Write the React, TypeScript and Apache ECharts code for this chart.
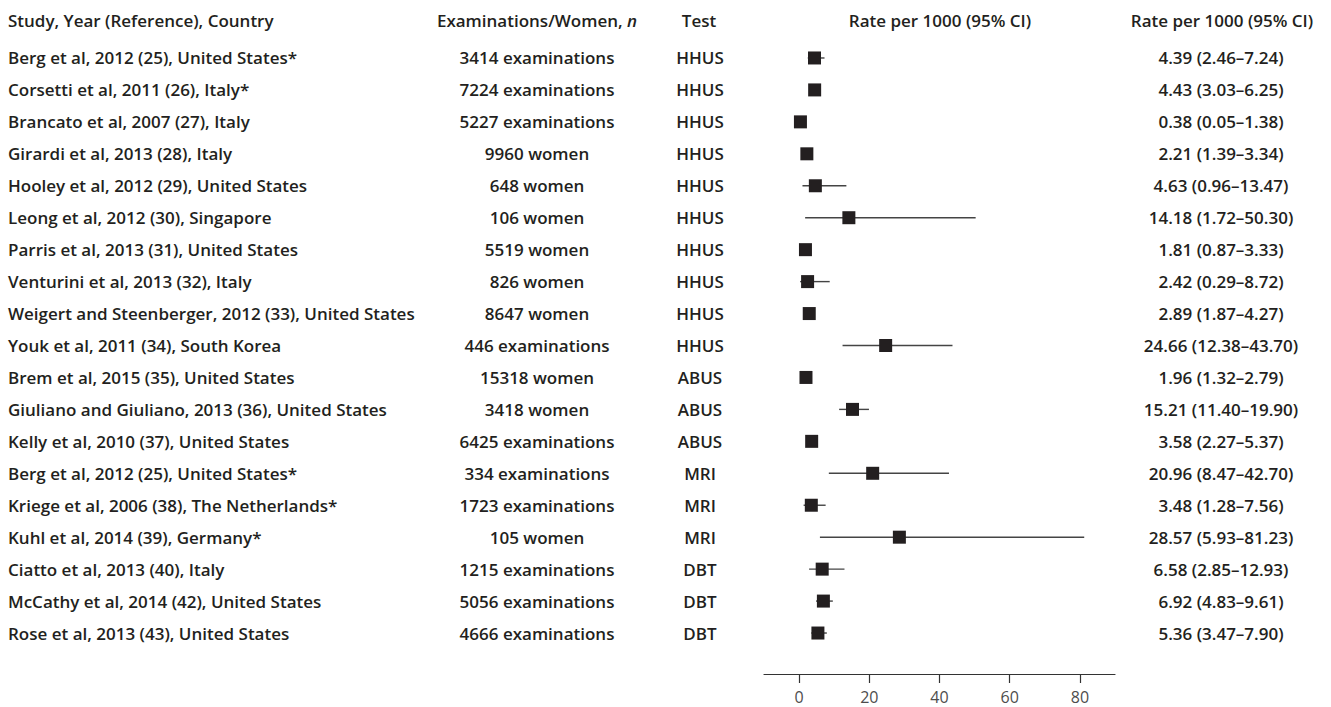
import React, { useEffect, useRef } from "react";
import * as echarts from "echarts";

const studies = [
  "Berg et al, 2012 (25), United States*",
  "Corsetti et al, 2011 (26), Italy*",
  "Brancato et al, 2007 (27), Italy",
  "Girardi et al, 2013 (28), Italy",
  "Hooley et al, 2012 (29), United States",
  "Leong et al, 2012 (30), Singapore",
  "Parris et al, 2013 (31), United States",
  "Venturini et al, 2013 (32), Italy",
  "Weigert and Steenberger, 2012 (33), United States",
  "Youk et al, 2011 (34), South Korea",
  "Brem et al, 2015 (35), United States",
  "Giuliano and Giuliano, 2013 (36), United States",
  "Kelly et al, 2010 (37), United States",
  "Berg et al, 2012 (25), United States*",
  "Kriege et al, 2006 (38), The Netherlands*",
  "Kuhl et al, 2014 (39), Germany*",
  "Ciatto et al, 2013 (40), Italy",
  "McCathy et al, 2014 (42), United States",
  "Rose et al, 2013 (43), United States",
];
const sampleSizes = [
  "3414 examinations", "7224 examinations", "5227 examinations", "9960 women",
  "648 women", "106 women", "5519 women", "826 women", "8647 women",
  "446 examinations", "15318 women", "3418 women", "6425 examinations",
  "334 examinations", "1723 examinations", "105 women", "1215 examinations",
  "5056 examinations", "4666 examinations",
];
const tests = [
  "HHUS", "HHUS", "HHUS", "HHUS", "HHUS", "HHUS", "HHUS", "HHUS", "HHUS", "HHUS",
  "ABUS", "ABUS", "ABUS", "MRI", "MRI", "MRI", "DBT", "DBT", "DBT",
];
const rates = [4.39, 4.43, 0.38, 2.21, 4.63, 14.18, 1.81, 2.42, 2.89, 24.66, 1.96, 15.21, 3.58, 20.96, 3.48, 28.57, 6.58, 6.92, 5.36];
const lower = [2.46, 3.03, 0.05, 1.39, 0.96, 1.72, 0.87, 0.29, 1.87, 12.38, 1.32, 11.4, 2.27, 8.47, 1.28, 5.93, 2.85, 4.83, 3.47];
const upper = [7.24, 6.25, 1.38, 3.34, 13.47, 50.3, 3.33, 8.72, 4.27, 43.7, 2.79, 19.9, 5.37, 42.7, 7.56, 81.23, 12.93, 9.61, 7.9];
const tickValues = [0, 20, 40, 60, 80];

const fmt = (v: number) => v.toFixed(2);
const rateLabels = rates.map((r, i) => `${fmt(r)} (${fmt(lower[i])}–${fmt(upper[i])})`);

const FONT = "'Open Sans', 'Noto Sans', sans-serif";
const TXT = "#231f20";
const FS = 17;

export default function App() {
  const ref = useRef<HTMLDivElement>(null);
  useEffect(() => {
    if (!ref.current) return;
    const chart = echarts.init(ref.current, null, { renderer: "svg" });
    const labelBase = {
      fontFamily: FONT,
      fontWeight: 600,
      fontSize: FS,
      color: TXT,
    };
    const hiddenAxis = {
      type: "category" as const,
      inverse: true,
      axisLine: { show: false },
      axisTick: { show: false },
      splitLine: { show: false },
    };
    const headerFont = `600 ${FS}px ${FONT}`;
    chart.setOption({
      animation: false,
      grid: { left: 764, right: 216, top: 42, bottom: 58, containLabel: false },
      xAxis: {
        type: "value",
        min: -10,
        max: 90,
        offset: 25,
        axisLine: { show: true, lineStyle: { color: "#333", width: 1.2 } },
        axisTick: { show: true, customValues: tickValues, length: 9, lineStyle: { color: "#333", width: 1.2 } },
        axisLabel: { customValues: tickValues, color: "#4d4d4d", fontSize: 16, fontFamily: FONT, margin: 15 },
        splitLine: { show: false },
      },
      yAxis: [
        {
          ...hiddenAxis,
          position: "left",
          data: studies,
          axisLabel: { ...labelBase, align: "left", margin: 756 },
        },
        {
          ...hiddenAxis,
          position: "left",
          data: sampleSizes,
          axisLabel: { ...labelBase, align: "center", margin: 227 },
        },
        {
          ...hiddenAxis,
          position: "left",
          data: tests,
          axisLabel: { ...labelBase, align: "center", margin: 64 },
        },
        {
          ...hiddenAxis,
          position: "right",
          data: rateLabels,
          axisLabel: { ...labelBase, align: "center", margin: 106 },
        },
      ],
      graphic: [
        { type: "text", x: 8, y: 20, style: { text: "Study, Year (Reference), Country", font: headerFont, fill: TXT, align: "left", verticalAlign: "middle" } },
        {
          type: "text",
          x: 537,
          y: 20,
          style: {
            text: "{a|Examinations/Women, }{b|n}",
            align: "center",
            verticalAlign: "middle",
            rich: {
              a: { fontFamily: FONT, fontWeight: 600, fontSize: FS, fill: TXT, color: TXT },
              b: { fontFamily: FONT, fontWeight: 600, fontStyle: "italic", fontSize: FS, fill: TXT, color: TXT },
            },
          },
        },
        { type: "text", x: 699, y: 20, style: { text: "Test", font: headerFont, fill: TXT, align: "center", verticalAlign: "middle" } },
        { type: "text", x: 940, y: 20, style: { text: "Rate per 1000 (95% CI)", font: headerFont, fill: TXT, align: "center", verticalAlign: "middle" } },
        { type: "text", x: 1222, y: 20, style: { text: "Rate per 1000 (95% CI)", font: headerFont, fill: TXT, align: "center", verticalAlign: "middle" } },
      ],
      series: [
        {
          type: "custom",
          xAxisIndex: 0,
          yAxisIndex: 0,
          encode: { x: [0, 2, 3], y: 1 },
          data: rates.map((r, i) => [r, i, lower[i], upper[i]]),
          renderItem: (params: any, api: any) => {
            const idx = api.value(1);
            const p = api.coord([api.value(0), idx]);
            const l = api.coord([api.value(2), idx]);
            const h = api.coord([api.value(3), idx]);
            const s = 13;
            return {
              type: "group",
              children: [
                { type: "line", shape: { x1: l[0], y1: p[1], x2: h[0], y2: p[1] }, style: { stroke: "#444", lineWidth: 1.4 } },
                { type: "rect", shape: { x: p[0] - s / 2, y: p[1] - s / 2, width: s, height: s }, style: { fill: TXT } },
              ],
            };
          },
        },
      ],
    });
    return () => chart.dispose();
  }, []);
  return <div ref={ref} style={{ position: "fixed", left: 0, top: 0, width: 1331, height: 707, background: "#fff" }} />;
}
